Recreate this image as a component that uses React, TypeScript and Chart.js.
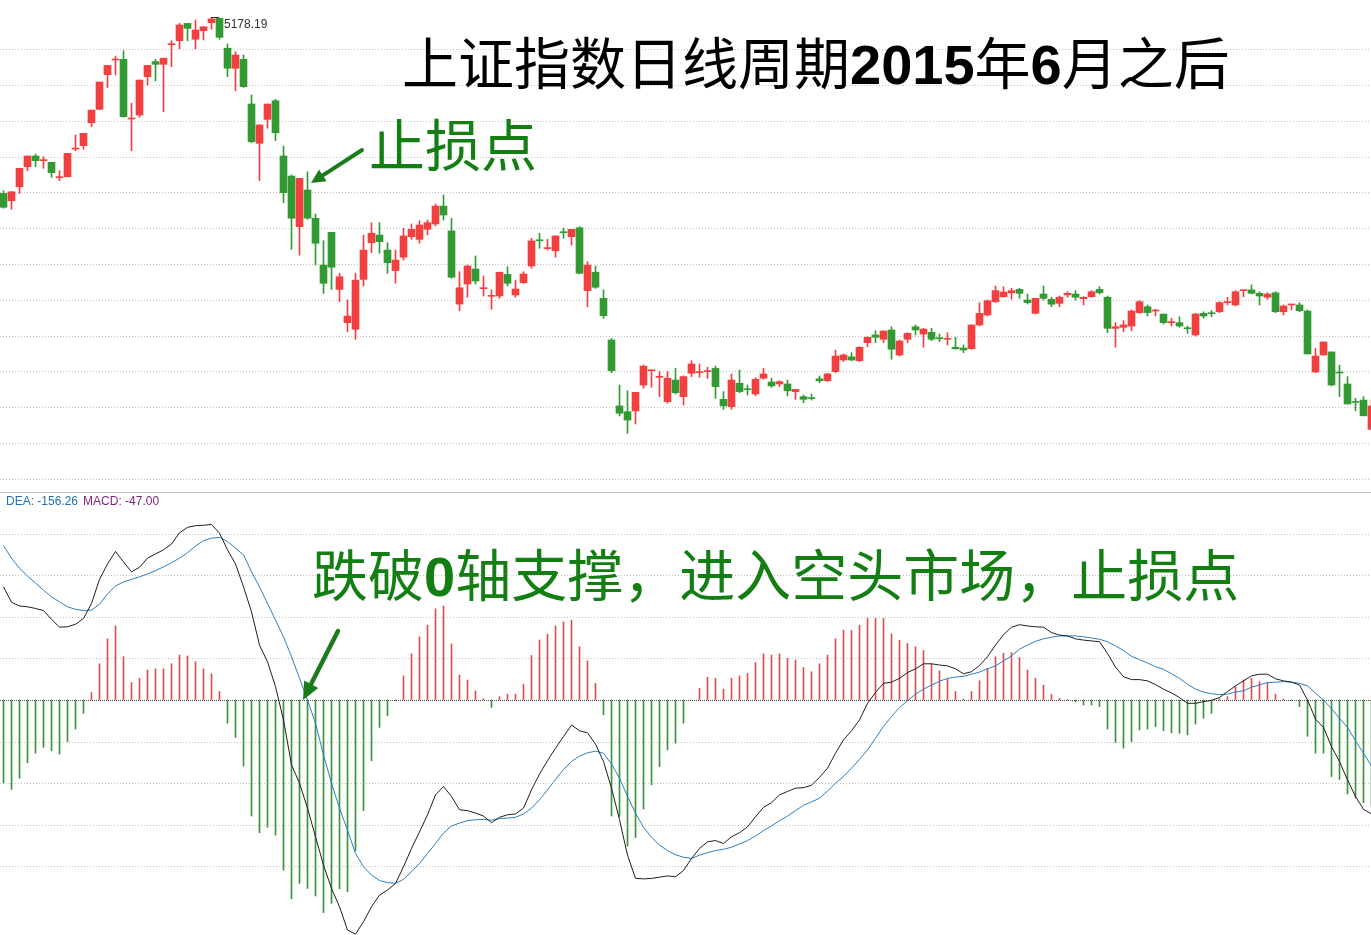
import React, { useEffect, useRef } from "react";
import { Chart, registerables } from "chart.js";

Chart.register(...registerables);

// ---- Candlestick data (Shanghai Composite, daily) ----
const opens = [
  4195, 4154, 4232, 4344, 4404, 4378, 4369, 4283, 4288, 4443,
  4462, 4590, 4665, 4859, 4941, 4945, 4611, 4633, 4848, 4932,
  4917, 5027, 5049, 5146, 5057, 5105, 5150, 5174, 5007, 4895,
  4945, 4695, 4475, 4609, 4713, 4404, 4292, 4009, 4214, 4056,
  3794, 3977, 3658, 3472, 3435, 3714, 3919, 3962, 3878, 3763,
  3838, 3953, 3938, 3994, 4024, 4124, 3985, 3576, 3688, 3772,
  3662, 3619, 3621, 3742, 3627, 3695, 3789, 3932, 3886, 3874,
  3977, 3953, 4003, 3651, 3754, 3608, 3375, 3006, 2974, 2978,
  3123, 3203, 3166, 3030, 3151, 3058, 3189, 3192, 3198, 3216,
  3043, 3002, 3133, 3099, 3073, 3161, 3140, 3129, 3129, 3086,
  3058, 3049, 3158, 3147, 3198, 3263, 3281, 3259, 3360, 3403,
  3379, 3431, 3291, 3379, 3449, 3408, 3418, 3384, 3379, 3334,
  3330, 3326, 3459, 3515, 3589, 3617, 3639, 3658, 3599, 3524,
  3632, 3603, 3580, 3627, 3632, 3606, 3617, 3658, 3614, 3440,
  3446, 3453, 3528, 3561, 3537, 3520, 3472, 3472, 3440, 3403,
  3524, 3524, 3533, 3584, 3571, 3651, 3655, 3636, 3614, 3639,
  3533, 3571, 3571, 3537, 3196, 3291, 3308, 3192, 3129, 3028,
  3039, 2875,
];
const highs = [
  4210, 4204, 4335, 4404, 4415, 4400, 4369, 4322, 4419, 4522,
  4531, 4661, 4818, 4911, 4963, 4993, 4699, 4829, 4911, 4945,
  4951, 5049, 5146, 5146, 5165, 5127, 5178.19, 5176, 5031, 4988,
  4969, 4745, 4578, 4695, 4721, 4460, 4298, 4279, 4316, 4080,
  3930, 3977, 3748, 3599, 3748, 3962, 4031, 4031, 3919, 3878,
  4000, 4024, 4042, 4046, 4136, 4186, 4056, 3757, 3794, 3845,
  3733, 3655, 3754, 3785, 3710, 3757, 3944, 3972, 3938, 3957,
  4000, 3994, 4009, 3813, 3789, 3655, 3384, 3123, 3091, 3082,
  3235, 3205, 3198, 3198, 3216, 3174, 3259, 3241, 3222, 3229,
  3086, 3185, 3207, 3123, 3164, 3216, 3161, 3147, 3151, 3099,
  3067, 3073, 3174, 3189, 3319, 3297, 3304, 3337, 3393, 3427,
  3427, 3449, 3375, 3416, 3459, 3440, 3440, 3408, 3416, 3390,
  3347, 3459, 3584, 3599, 3677, 3673, 3664, 3664, 3632, 3608,
  3677, 3614, 3621, 3645, 3651, 3617, 3651, 3673, 3621, 3472,
  3483, 3543, 3595, 3571, 3547, 3520, 3496, 3505, 3453, 3524,
  3533, 3539, 3589, 3614, 3651, 3653, 3683, 3645, 3639, 3645,
  3571, 3573, 3584, 3543, 3328, 3364, 3308, 3235, 3170, 3049,
  3058, 3039,
];
const lows = [
  4112, 4106, 4195, 4322, 4344, 4335, 4285, 4266, 4288, 4434,
  4442, 4568, 4665, 4788, 4857, 4621, 4434, 4621, 4801, 4825,
  4652, 4904, 5004, 5049, 5004, 5053, 5113, 5057, 4848, 4769,
  4788, 4478, 4266, 4559, 4490, 4143, 3882, 3850, 4050, 3794,
  3636, 3658, 3589, 3421, 3379, 3677, 3863, 3860, 3748, 3692,
  3822, 3938, 3916, 3962, 4013, 4046, 3720, 3539, 3614, 3688,
  3621, 3547, 3608, 3677, 3614, 3692, 3776, 3888, 3878, 3838,
  3944, 3906, 3744, 3561, 3664, 3496, 3192, 2950, 2853, 2905,
  3105, 3110, 3058, 3021, 3073, 3011, 3170, 3166, 3160, 3049,
  2987, 2987, 3080, 3067, 3062, 3155, 3110, 3114, 3062, 3043,
  3024, 3039, 3136, 3142, 3192, 3254, 3259, 3254, 3337, 3360,
  3360, 3267, 3285, 3360, 3403, 3334, 3371, 3365, 3347, 3323,
  3304, 3323, 3453, 3509, 3584, 3614, 3603, 3608, 3576, 3520,
  3599, 3561, 3561, 3614, 3599, 3571, 3614, 3632, 3416, 3334,
  3421, 3427, 3524, 3509, 3509, 3464, 3453, 3446, 3412, 3397,
  3496, 3505, 3528, 3571, 3565, 3617, 3632, 3571, 3603, 3528,
  3515, 3543, 3533, 3297, 3192, 3291, 3118, 3058, 3017, 2979,
  2950, 2871,
];
const closes = [
  4117, 4204, 4335, 4404, 4378, 4382, 4311, 4285, 4419, 4445,
  4531, 4661, 4818, 4911, 4945, 4624, 4613, 4829, 4911, 4917,
  4951, 5029, 5137, 5118, 5109, 5127, 5171, 5068, 4895, 4969,
  4792, 4484, 4578, 4695, 4534, 4199, 4056, 4279, 4056, 3916,
  3692, 3782, 3729, 3509, 3710, 3878, 3972, 3925, 3807, 3822,
  3957, 3994, 4018, 4031, 4124, 4074, 3726, 3667, 3789, 3705,
  3664, 3621, 3754, 3692, 3660, 3744, 3929, 3930, 3888, 3957,
  3975, 3994, 3748, 3794, 3670, 3511, 3203, 2965, 2927, 3082,
  3229, 3205, 3168, 3161, 3080, 3170, 3241, 3194, 3200, 3114,
  3006, 3151, 3086, 3097, 3155, 3185, 3118, 3142, 3091, 3099,
  3043, 3047, 3147, 3185, 3285, 3291, 3263, 3334, 3390, 3390,
  3425, 3323, 3369, 3412, 3431, 3436, 3379, 3382, 3381, 3326,
  3319, 3459, 3524, 3595, 3651, 3643, 3651, 3636, 3584, 3608,
  3608, 3575, 3614, 3636, 3614, 3614, 3645, 3639, 3440, 3449,
  3459, 3537, 3589, 3528, 3539, 3472, 3474, 3453, 3438, 3520,
  3509, 3522, 3584, 3586, 3645, 3653, 3636, 3621, 3632, 3533,
  3565, 3573, 3539, 3297, 3285, 3364, 3123, 3190, 3017, 3026,
  2951, 3006,
];

// ---- MACD data ----
const difValues = [
  272, 235, 226, 224, 220, 215, 194, 175, 176, 182,
  196, 232, 290, 327, 357, 332, 308, 319, 341, 351,
  361, 375, 402, 415, 419, 420, 422, 401, 361, 327,
  272, 212, 132, 92, 32, -48, -156, -200, -260, -329,
  -397, -453, -497, -553, -563, -533, -497, -469, -457, -441,
  -401, -357, -317, -276, -228, -208, -232, -264, -266, -272,
  -279, -295, -282, -276, -274, -260, -216, -178, -146, -116,
  -88, -60, -74, -79, -106, -148, -212, -288, -373, -429,
  -430, -429, -426, -423, -425, -410, -381, -357, -341, -338,
  -345, -329, -319, -305, -281, -258, -247, -228, -220, -212,
  -211, -205, -186, -164, -128, -96, -74, -48, -8, 18,
  40, 43, 52, 66, 75, 87, 87, 84, 82, 75,
  63, 68, 83, 104, 132, 157, 175, 181, 178, 176,
  175, 162, 156, 154, 147, 144, 142, 140, 112, 79,
  56, 49, 49, 46, 37, 26, 17, 6, -8, -8,
  -4, -1, 6, 20, 34, 46, 58, 62, 62, 51,
  46, 43, 36, 0, -46, -66, -112, -148, -192, -232,
  -263, -274,
];
const deaValues = [
  371, 341, 317, 298, 281, 264, 248, 236, 224, 218,
  215, 216, 230, 255, 274, 284, 290, 296, 303, 311,
  320, 330, 341, 354, 370, 383, 389, 391, 381, 365,
  349, 308, 272, 232, 192, 152, 104, 52, 0, -56,
  -132, -200, -260, -313, -369, -401, -421, -434, -439, -441,
  -431, -413, -393, -369, -345, -320, -303, -296, -290, -288,
  -287, -289, -285, -284, -282, -274, -260, -240, -216, -191,
  -167, -148, -135, -127, -123, -128, -154, -188, -232, -272,
  -306, -330, -349, -362, -372, -378, -381, -373, -367, -362,
  -359, -354, -346, -338, -327, -314, -303, -290, -279, -266,
  -253, -245, -236, -219, -200, -184, -164, -143, -120, -92,
  -63, -40, -18, -2, 14, 26, 36, 45, 52, 55,
  57, 62, 67, 75, 82, 94, 106, 122, 132, 141,
  147, 151, 154, 154, 154, 152, 149, 146, 140, 130,
  119, 105, 97, 89, 80, 74, 63, 52, 38, 26,
  19, 15, 13, 14, 19, 22, 31, 36, 42, 43,
  44, 43, 40, 34, 16, 0, -21, -44, -66, -98,
  -128, -159,
];
const macdValues = [
  -200, -215, -188, -151, -128, -114, -122, -130, -100, -70,
  -32, 18, 87, 147, 178, 104, 42, 52, 72, 75,
  75, 87, 108, 106, 92, 75, 63, 20, -56, -90,
  -159, -279, -319, -306, -325, -409, -478, -441, -453, -471,
  -511, -489, -454, -461, -362, -266, -146, -66, -38, -2,
  58, 111, 152, 180, 219, 226, 135, 60, 48, 22,
  3, -18, 8, 14, 14, 38, 107, 144, 158, 178,
  188, 192, 128, 94, 40, -36, -279, -280, -351, -331,
  -262, -204, -160, -120, -104, -56, 0, 28, 55, 52,
  26, 52, 58, 64, 90, 111, 108, 111, 100, 96,
  78, 68, 87, 108, 147, 168, 167, 180, 196, 196,
  196, 159, 143, 136, 128, 119, 87, 70, 50, 20,
  2, 20, 46, 76, 104, 112, 114, 102, 72, 52,
  36, 13, 4, 1, -4, -12, -12, -16, -70, -102,
  -116, -100, -72, -70, -64, -74, -79, -80, -84, -58,
  -44, -32, 3, 8, 32, 48, 52, 44, 42, 14,
  2, -1, -16, -87, -128, -128, -184, -191, -226, -236,
  -247, -255,
];

// ---- Grid / tick values ----
const priceGridLines = [2600, 2800, 3000, 3200, 3400, 3600, 3800, 4000, 4200, 4400, 4600, 4800, 5000];
const macdGridLines = [-400, -300, -200, -100, 0, 100, 200, 300, 400];
const peakLabel = "5178.19";
const deaLabel = "DEA: -156.26";
const macdLabel = "MACD: -47.00";

const RED = "#f23f3f";
const GREEN = "#339a33";
const HIST_RED = "#d9504c";
const HIST_GREEN = "#3b933b";

const W = 1371;
const TOP_H = 493;
const BOT_H = 442;

const gridPlugin = (values: number[], zeroDark: boolean) => ({
  id: "dottedGrid",
  beforeDatasetsDraw(chart: any) {
    const { ctx, chartArea, scales } = chart;
    const ys = scales.y;
    ctx.save();
    ctx.lineWidth = 1;
    for (const v of values) {
      const py = Math.round(ys.getPixelForValue(v)) + 0.5;
      const dark = zeroDark && v === 0;
      ctx.strokeStyle = dark ? "#444444" : "#c2c2c2";
      ctx.setLineDash(dark ? [1, 1] : [1, 2]);
      ctx.beginPath();
      ctx.moveTo(chartArea.left, py);
      ctx.lineTo(chartArea.right, py);
      ctx.stroke();
    }
    ctx.restore();
  },
});

const xScale = { type: "linear", display: false, min: -0.4375, max: 170.9375, offset: false, grid: { display: false } };

export default function App() {
  const topRef = useRef<HTMLCanvasElement | null>(null);
  const botRef = useRef<HTMLCanvasElement | null>(null);

  useEffect(() => {
    const idx = opens.map((_, i) => i);
    const candleColors = idx.map((i) => (closes[i] >= opens[i] ? RED : GREEN));
    const top = new Chart(topRef.current as HTMLCanvasElement, {
      type: "bar",
      data: {
        datasets: [
          {
            type: "bar",
            data: idx.map((i) => ({ x: i, y: [lows[i], highs[i]] })) as any,
            backgroundColor: candleColors,
            barThickness: 1,
            grouped: false,
            borderWidth: 0,
            order: 2,
          } as any,
          {
            type: "bar",
            data: idx.map((i) => ({ x: i, y: [opens[i], closes[i]] })) as any,
            backgroundColor: candleColors,
            barThickness: 7,
            grouped: false,
            borderWidth: 0,
            minBarLength: 1,
            order: 1,
          } as any,
        ],
      },
      options: {
        animation: false,
        responsive: false,
        maintainAspectRatio: false,
        events: [],
        layout: { padding: 0 },
        plugins: { legend: { display: false }, tooltip: { enabled: false } },
        scales: {
          x: xScale as any,
          y: { type: "linear", display: false, min: 2519, max: 5276.8, grid: { display: false } },
        },
      },
      plugins: [gridPlugin(priceGridLines, false)],
    });

    const histColors = macdValues.map((v) => (v >= 0 ? HIST_RED : HIST_GREEN));
    const bot = new Chart(botRef.current as HTMLCanvasElement, {
      type: "bar",
      data: {
        datasets: [
          {
            type: "line",
            data: idx.map((i) => ({ x: i, y: difValues[i] })) as any,
            borderColor: "#1e1e1e",
            borderWidth: 1,
            pointRadius: 0,
            tension: 0,
            order: 0,
          } as any,
          {
            type: "line",
            data: idx.map((i) => ({ x: i, y: deaValues[i] })) as any,
            borderColor: "#2a7fc2",
            borderWidth: 1,
            pointRadius: 0,
            tension: 0,
            order: 1,
          } as any,
          {
            type: "bar",
            data: idx.map((i) => ({ x: i, y: macdValues[i] })) as any,
            backgroundColor: histColors,
            barThickness: 1,
            grouped: false,
            borderWidth: 0,
            order: 2,
          } as any,
        ],
      },
      options: {
        animation: false,
        responsive: false,
        maintainAspectRatio: false,
        events: [],
        layout: { padding: 0 },
        plugins: { legend: { display: false }, tooltip: { enabled: false } },
        scales: {
          x: xScale as any,
          y: { type: "linear", display: false, min: -565, max: 497.6, grid: { display: false } },
        },
      },
      plugins: [gridPlugin(macdGridLines, true)],
    });

    return () => {
      top.destroy();
      bot.destroy();
    };
  }, []);

  const cjk = '"Noto Sans CJK SC", "Noto Sans CJK TC", sans-serif';
  const latin = '"Liberation Sans", Arial, sans-serif';
  const green = "#137f13";

  return (
    <div style={{ position: "absolute", left: 0, top: 0, width: W, height: TOP_H + BOT_H, background: "#ffffff", overflow: "hidden" }}>
      <canvas ref={topRef} width={W} height={TOP_H} style={{ position: "absolute", left: 0, top: 0, width: W, height: TOP_H }} />
      <div style={{ position: "absolute", left: 0, top: TOP_H - 1, width: W, height: 1, background: "#c4c4c4" }} />
      <canvas ref={botRef} width={W} height={BOT_H} style={{ position: "absolute", left: 0, top: TOP_H, width: W, height: BOT_H }} />

      <div style={{ position: "absolute", left: 224, top: 17, font: `12px ${latin}`, color: "#333", lineHeight: "14px" }}>{peakLabel}</div>

      <div style={{ position: "absolute", left: 6, top: 494, font: `12px ${latin}`, lineHeight: "14px", whiteSpace: "nowrap" }}>
        <span style={{ color: "#1f6fb3" }}>{deaLabel}</span>
        <span style={{ color: "#7d1f7d", marginLeft: 5 }}>{macdLabel}</span>
      </div>

      <div style={{ position: "absolute", left: 402, top: 32, fontFamily: cjk, fontSize: 56, lineHeight: "56px", color: "#000", whiteSpace: "nowrap" }}>
        上证指数日线周期<span style={{ fontFamily: latin, fontWeight: 700 }}>2015</span>年<span style={{ fontFamily: latin, fontWeight: 700 }}>6</span>月之后
      </div>

      <div style={{ position: "absolute", left: 369, top: 114, fontFamily: cjk, fontSize: 56, lineHeight: "56px", color: green, whiteSpace: "nowrap" }}>
        止损点
      </div>

      <div style={{ position: "absolute", left: 312, top: 544, fontFamily: cjk, fontSize: 56, lineHeight: "56px", color: green, whiteSpace: "nowrap" }}>
        跌破<span style={{ fontFamily: latin, fontWeight: 700 }}>0</span>轴支撑，进入空头市场，止损点
      </div>

      <svg width={W} height={TOP_H + BOT_H} style={{ position: "absolute", left: 0, top: 0, pointerEvents: "none" }}>
        <line x1={211} y1={17.5} x2={219} y2={17.5} stroke="#333" strokeWidth={1} />
        <line x1={362} y1={150} x2={322.8} y2={175.4} stroke="#1a7d1a" strokeWidth={4} strokeLinecap="round" />
        <polygon points="311,183 326.6,181.2 319,169.6" fill="#1a7d1a" />
        <line x1={338} y1={631} x2={311.1} y2={684} stroke="#1a7d1a" strokeWidth={4.5} strokeLinecap="round" />
        <polygon points="303,700 318.3,688 304.2,680.5" fill="#1a7d1a" />
      </svg>
    </div>
  );
}
